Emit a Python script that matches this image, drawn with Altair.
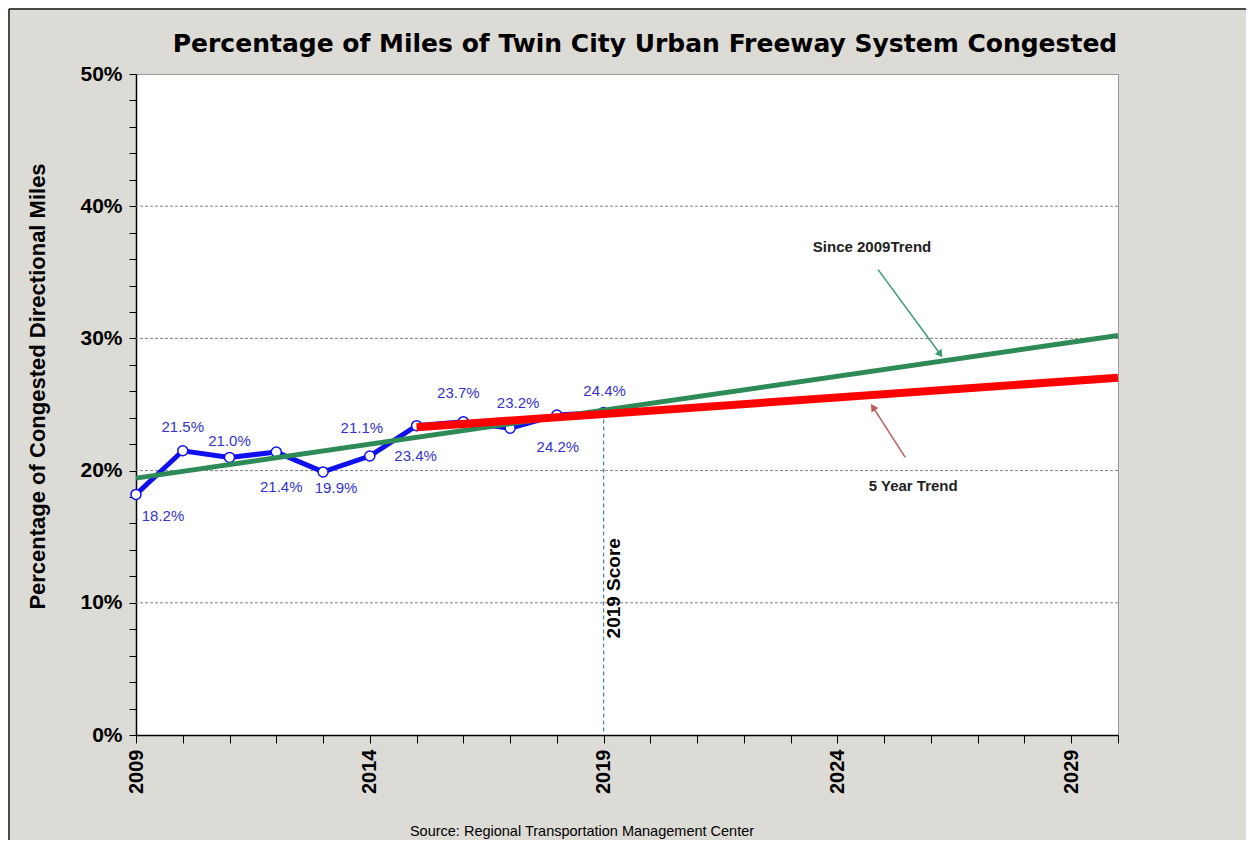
import altair as alt
import pandas as pd

# ---- data ----
years = [2009, 2010, 2011, 2012, 2013, 2014, 2015, 2016, 2017, 2018, 2019]
values = [18.2, 21.5, 21.0, 21.4, 19.9, 21.1, 23.4, 23.7, 23.2, 24.2, 24.4]
labels = ["18.2%", "21.5%", "21.0%", "21.4%", "19.9%", "21.1%", "23.4%", "23.7%", "23.2%", "24.2%", "24.4%"]

# label placement (pixels, relative to the point)
label_dx = [27, 0, 0, 5, 13, -8, -1, -5, 8, 1, 1]
label_dy = [22, -24, -16, 35, 16, -28, 30, -29, -25, 32, -21]

grid_values = [10, 20, 30, 40]
x_ticks = list(range(2009, 2031))
y_ticks = list(range(0, 51, 2))

TITLE = "Percentage of Miles of Twin City Urban Freeway System Congested"
SOURCE = "Source: Regional Transportation Management Center"

FONT = "Liberation Sans"

df = pd.DataFrame({"year": years, "value": values, "label": labels})

xscale = alt.Scale(domain=[2009, 2030], nice=False, zero=False)
yscale = alt.Scale(domain=[0, 50], nice=False)

x_axis = alt.Axis(values=x_ticks, tickCount=40, format="d",
                  labelExpr="(datum.value - 2009) % 5 == 0 ? datum.label : ''",
                  labelAngle=270, labelAlign="right", labelBaseline="middle",
                  labelFontSize=20, labelFontWeight="bold", labelFont=FONT, labelColor="black",
                  labelPadding=6, tickSize=8, tickColor="black", domainColor="black",
                  domainWidth=1.5, grid=False, title=None, labelOverlap=False, labelFlush=False)
y_axis = alt.Axis(values=y_ticks, tickCount=40,
                  labelExpr="datum.value % 10 == 0 ? datum.value + '%' : ''",
                  labelFontSize=21, labelFontWeight="bold", labelFont=FONT, labelColor="black",
                  labelPadding=7, tickSize=7, tickColor="black", domainColor="black",
                  domainWidth=1.5, grid=False, labelOverlap=False, labelFlush=False,
                  title="Percentage of Congested Directional Miles",
                  titleFontSize=22, titleFontWeight="bold", titleFont=FONT, titleColor="black",
                  titleAngle=270, titleAlign="center", titleBaseline="middle",
                  titleX=-99, titleY=312)


def X(field):
    return alt.X(field, type="quantitative", scale=xscale, axis=x_axis)


def Y(field):
    return alt.Y(field, type="quantitative", scale=yscale, axis=y_axis)


base = alt.Chart(df)

frame_dummy = pd.DataFrame({"f": [0]})
frame_left = alt.Chart(frame_dummy).mark_rule(color="#1a1a1a", strokeWidth=1.5).encode(
    x=alt.value(-127), y=alt.value(-65), y2=alt.value(770))
frame_top = alt.Chart(frame_dummy).mark_rule(color="#1a1a1a", strokeWidth=1.5).encode(
    x=alt.value(-127), x2=alt.value(1115), y=alt.value(-65))

title_txt = alt.Chart(pd.DataFrame({"t": [TITLE]})).mark_text(
    font="DejaVu Sans", fontSize=25, fontWeight="bold", color="black",
    align="center", baseline="alphabetic"
).encode(x=alt.value(509), y=alt.value(-22), text="t:N")

grid = alt.Chart(pd.DataFrame({"g": grid_values})).mark_rule(
    color="#808080", strokeDash=[3, 2], strokeWidth=1
).encode(y=Y("g"))

vline = base.transform_filter("datum.year == 2019").mark_rule(
    color="#3a86b4", strokeDash=[4, 3], strokeWidth=1.2
).encode(x=X("year"), y=Y("value"), y2=alt.datum(0))

line = base.mark_line(color="#1010ee", strokeWidth=5).encode(x=X("year"), y=Y("value"))

pts = base.mark_point(shape="circle", filled=True, fill="white", stroke="#1010ee",
                      strokeWidth=1.5, size=100, opacity=1).encode(x=X("year"), y=Y("value"))

trend_all = base.transform_regression("year", "value", extent=[2009, 2030]).mark_line(
    color="#2e8b57", strokeWidth=5).encode(x=X("year"), y=Y("value"))

trend5 = base.transform_filter("datum.year >= 2015").transform_regression(
    "year", "value", extent=[2015, 2030]).mark_line(
    color="#ff0000", strokeWidth=8).encode(x=X("year"), y=Y("value"))

label_layers = []
for yr, ddx, ddy in zip(years, label_dx, label_dy):
    label_layers.append(
        base.transform_filter(f"datum.year == {yr}").mark_text(
            font=FONT, fontSize=15, color="#3333cc", align="center",
            baseline="middle", dx=ddx, dy=ddy
        ).encode(x=X("year"), y=Y("value"), text="label:N")
    )

score_txt = alt.Chart(pd.DataFrame({"t": ["2019 Score"]})).mark_text(
    font=FONT, fontSize=19, fontWeight="bold", color="black", angle=270,
    align="center", baseline="middle", dy=10).encode(
    x=alt.datum(2019, scale=xscale), y=alt.datum(11.1, scale=yscale), text="t:N")

ann = pd.DataFrame({"t": ["Since 2009Trend", "5 Year Trend"],
                    "x": [2024.74, 2025.62], "y": [36.9, 18.8]})
ann_txt = alt.Chart(ann).mark_text(font=FONT, fontSize=15, fontWeight="bold",
                                   color="#222222", align="center", baseline="middle").encode(
    x=X("x"), y=Y("y"), text="t:N")

green_arrow = pd.DataFrame({"x": [2024.87, 2026.2], "y": [35.2, 28.8]})
red_arrow = pd.DataFrame({"x": [2025.45, 2024.76], "y": [21.0, 24.8]})

g_shaft = alt.Chart(green_arrow).mark_line(color="#3a9a78", strokeWidth=1.5).encode(
    x=X("x"), y=Y("y"))
g_head = alt.Chart(green_arrow.iloc[[1]]).mark_point(
    shape="triangle-up", filled=True, color="#3a9a78", size=70, angle=143, opacity=1).encode(
    x=X("x"), y=Y("y"))
r_shaft = alt.Chart(red_arrow).mark_line(color="#c05a5a", strokeWidth=1.5).encode(
    x=X("x"), y=Y("y"))
r_head = alt.Chart(red_arrow.iloc[[1]]).mark_point(
    shape="triangle-up", filled=True, color="#c05a5a", size=70, angle=327, opacity=1).encode(
    x=X("x"), y=Y("y"))

source = alt.Chart(pd.DataFrame({"t": [SOURCE]})).mark_text(
    font=FONT, fontSize=14.5, color="black",
    align="center", baseline="middle").encode(
    x=alt.value(446), y=alt.value(758), text="t:N")

chart = alt.layer(
    frame_left, frame_top, title_txt, grid, vline, line, pts, trend_all, trend5,
    *label_layers, score_txt, ann_txt,
    g_shaft, g_head, r_shaft, r_head, source
).properties(
    width=982, height=661,
    autosize=alt.AutoSizeParams(type="none"),
    padding={"left": 128, "top": 66, "right": 128, "bottom": 105},
    background="#dddbd6"
).configure_view(fill="white", stroke="#9a9a9a", strokeWidth=1)

chart.save("out.html", embed_options={"renderer": "svg", "actions": False})
